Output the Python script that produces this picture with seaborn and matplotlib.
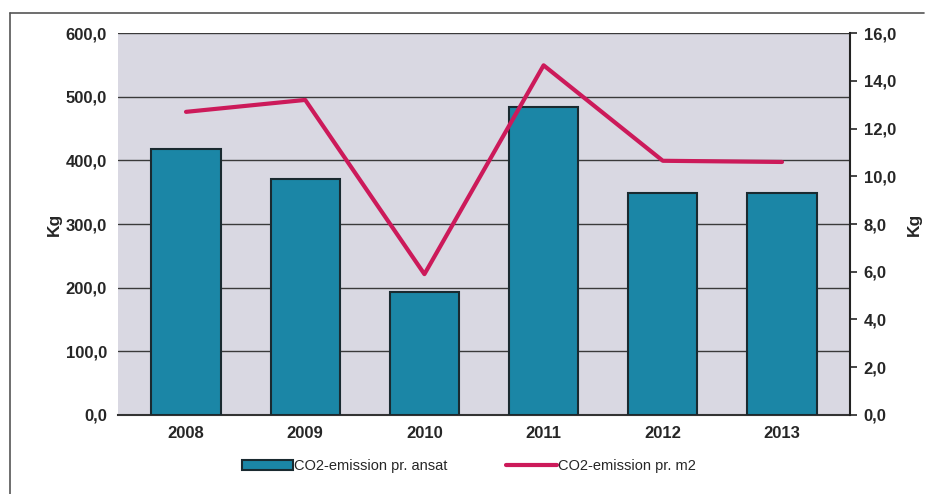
import numpy as np
import pandas as pd
import matplotlib.pyplot as plt
import matplotlib.ticker as mticker
from matplotlib.lines import Line2D
import seaborn as sns

years = ["2008", "2009", "2010", "2011", "2012", "2013"]
per_employee = [418.0, 371.0, 193.0, 484.0, 349.0, 349.0]
per_m2 = [12.7, 13.2, 5.9, 14.65, 10.65, 10.6]
bar_label = "CO2-emission pr. ansat"
line_label = "CO2-emission pr. m2"

sns.set_style("white")
plt.rcParams["font.family"] = ["Liberation Sans", "DejaVu Sans"]

df = pd.DataFrame({"year": years, "ansat": per_employee, "m2": per_m2})

fig = plt.figure(figsize=(9.38, 4.94), dpi=100)
ax = fig.add_axes([0.126, 0.16, 0.78, 0.773])
ax.set_facecolor("#d9d8e2")

sns.barplot(data=df, x="year", y="ansat", color="#1b86a6", saturation=1,
            edgecolor="#1a2a30", linewidth=1.5, width=0.58, ax=ax,
            label=bar_label, zorder=3)
ax.set_ylim(0, 600)
ax.yaxis.set_major_locator(mticker.MultipleLocator(100))
ax.yaxis.set_major_formatter(mticker.FuncFormatter(lambda v, p: f"{v:.1f}".replace(".", ",")))
ax.grid(axis="y", color="#3a3a3a", linewidth=1.0, zorder=0)
ax.set_axisbelow(True)
ax.set_xlabel("")
ax.set_ylabel("Kg", fontsize=12.5, fontweight="bold", labelpad=3)
ax.tick_params(axis="both", labelsize=12, length=0, pad=8)
for lab in ax.get_xticklabels() + ax.get_yticklabels():
    lab.set_fontweight("bold")
for s in ["top", "right", "left"]:
    ax.spines[s].set_visible(False)
ax.spines["bottom"].set_color("#333333")
ax.spines["bottom"].set_linewidth(1.5)
if ax.get_legend() is not None:
    ax.get_legend().remove()

ax2 = ax.twinx()
sns.lineplot(x=np.arange(len(years)), y=per_m2, color="#cc1a5a", linewidth=3,
             ax=ax2, label=line_label, zorder=5)
ax2.set_ylim(0, 16)
ax2.yaxis.set_major_locator(mticker.MultipleLocator(2))
ax2.yaxis.set_major_formatter(mticker.FuncFormatter(lambda v, p: f"{v:.1f}".replace(".", ",")))
ax2.set_ylabel("Kg", fontsize=12.5, fontweight="bold", labelpad=8)
ax2.tick_params(axis="y", labelsize=12, length=5, width=1.2, direction="out", pad=5)
for lab in ax2.get_yticklabels():
    lab.set_fontweight("bold")
for s in ["top", "left", "bottom"]:
    ax2.spines[s].set_visible(False)
ax2.spines["right"].set_color("#222222")
ax2.spines["right"].set_linewidth(1.5)
ax2.get_legend().remove()

h1, l1 = ax.get_legend_handles_labels()
h2, l2 = ax2.get_legend_handles_labels()
fig.legend(h1 + h2, l1 + l2, loc="lower center", bbox_to_anchor=(0.5, 0.015),
           ncol=2, frameon=False, fontsize=10.5, handlelength=3.5,
           handletextpad=0.1, columnspacing=4)

# outer frame (only top and left edges show in the scan)
fig.lines.append(Line2D([0.011, 0.011], [0.0, 0.974], transform=fig.transFigure,
                        color="#555555", linewidth=1.2))
fig.lines.append(Line2D([0.011, 0.985], [0.974, 0.974], transform=fig.transFigure,
                        color="#555555", linewidth=1.2))

fig.savefig("out.png", dpi=100)
